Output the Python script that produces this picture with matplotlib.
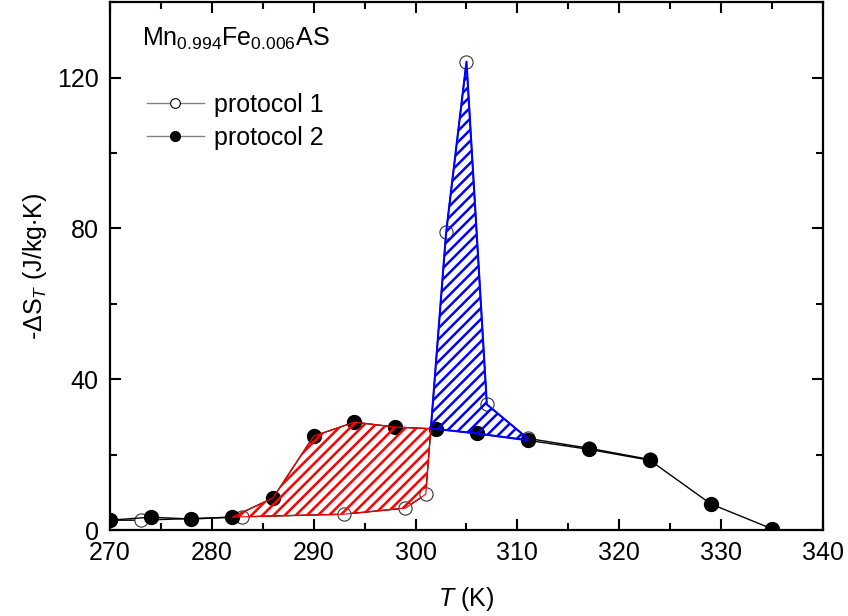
import numpy as np
import matplotlib.pyplot as plt
from matplotlib.lines import Line2D

plt.rcParams['font.family'] = ['Liberation Sans', 'DejaVu Sans']
plt.rcParams['mathtext.fontset'] = 'custom'
plt.rcParams['mathtext.rm'] = 'Liberation Sans'
plt.rcParams['mathtext.it'] = 'Liberation Sans:italic'
plt.rcParams['mathtext.default'] = 'regular'
plt.rcParams['hatch.linewidth'] = 1.8

# protocol 1 (open symbols)
t1 = [270, 273, 283, 293, 299, 301, 303, 305, 307, 311, 317, 323]
s1 = [2.6, 2.6, 3.5, 4.2, 5.8, 9.5, 78.9, 124.2, 33.3, 24.3, 21.7, 18.7]
# protocol 2 (filled symbols)
t2 = [270, 274, 278, 282, 286, 290, 294, 298, 302, 306, 311, 317, 323, 329, 335]
s2 = [2.6, 3.4, 2.9, 3.4, 8.5, 24.9, 28.6, 27.3, 26.8, 25.6, 23.8, 21.4, 18.5, 6.9, 0.3]

xticks = [270, 280, 290, 300, 310, 320, 330, 340]
yticks = [0, 40, 80, 120]

fig = plt.figure(figsize=(8.48, 6.16), dpi=100)
ax = fig.add_axes([0.1297, 0.1396, 0.8408, 0.857])

ax.plot(t1, s1, '-o', color='black', lw=1.0, ms=9.5, mfc='white', mec='#333333',
        mew=0.8, zorder=3)
ax.plot(t2, s2, '-o', color='black', lw=1.0, ms=10, mfc='black', mec='black', zorder=3)

# hatched areas between the two curves
grid = np.union1d(t1, t2)
y1 = np.interp(grid, t1, s1)
y2 = np.interp(grid, t2, s2)
r = (grid >= 282) & (grid <= 303)
b = (grid >= 301) & (grid <= 311)
ax.fill_between(grid[r], y1[r], y2[r], where=y2[r] >= y1[r], interpolate=True,
                facecolor='none', edgecolor='red', hatch='///', lw=0.8, zorder=4)
ax.fill_between(grid[b], y1[b], y2[b], where=y1[b] >= y2[b], interpolate=True,
                facecolor='none', edgecolor='#0000ff', hatch='///', lw=1.5, zorder=4)

ax.set_xlim(270, 340)
ax.set_ylim(0, 140)
ax.set_xticks(xticks)
ax.set_yticks(yticks)
ax.set_xticks(np.arange(275, 340, 10), minor=True)
ax.set_yticks([20, 60, 100, 140], minor=True)
ax.tick_params(which='both', direction='in', top=True, right=True, width=1.5,
               labelsize=18, pad=8)
ax.tick_params(which='major', length=8)
ax.tick_params(which='minor', length=5)
for sp in ax.spines.values():
    sp.set_linewidth(1.6)

ax.set_xlabel(r'$\it{T}$ (K)', fontsize=18, labelpad=14)
ax.set_ylabel(r'-ΔS$_{\mathit{T}}$ (J/kg$\cdot$K)', fontsize=18, labelpad=6)

ax.text(0.045, 0.93, r'Mn$_{0.994}$Fe$_{0.006}$AS', transform=ax.transAxes,
        fontsize=18, va='center')
handles = [
    Line2D([], [], color='gray', lw=1, marker='o', ms=7, mfc='white', mec='black', mew=0.8),
    Line2D([], [], color='gray', lw=1, marker='o', ms=7, mfc='black', mec='black'),
]
ax.legend(handles, ['protocol 1', 'protocol 2'], loc='upper left',
          bbox_to_anchor=(0.02, 0.87), frameon=False, fontsize=18,
          handlelength=2.3, handletextpad=0.4, labelspacing=0.35)

fig.savefig('out.png', dpi=100)
